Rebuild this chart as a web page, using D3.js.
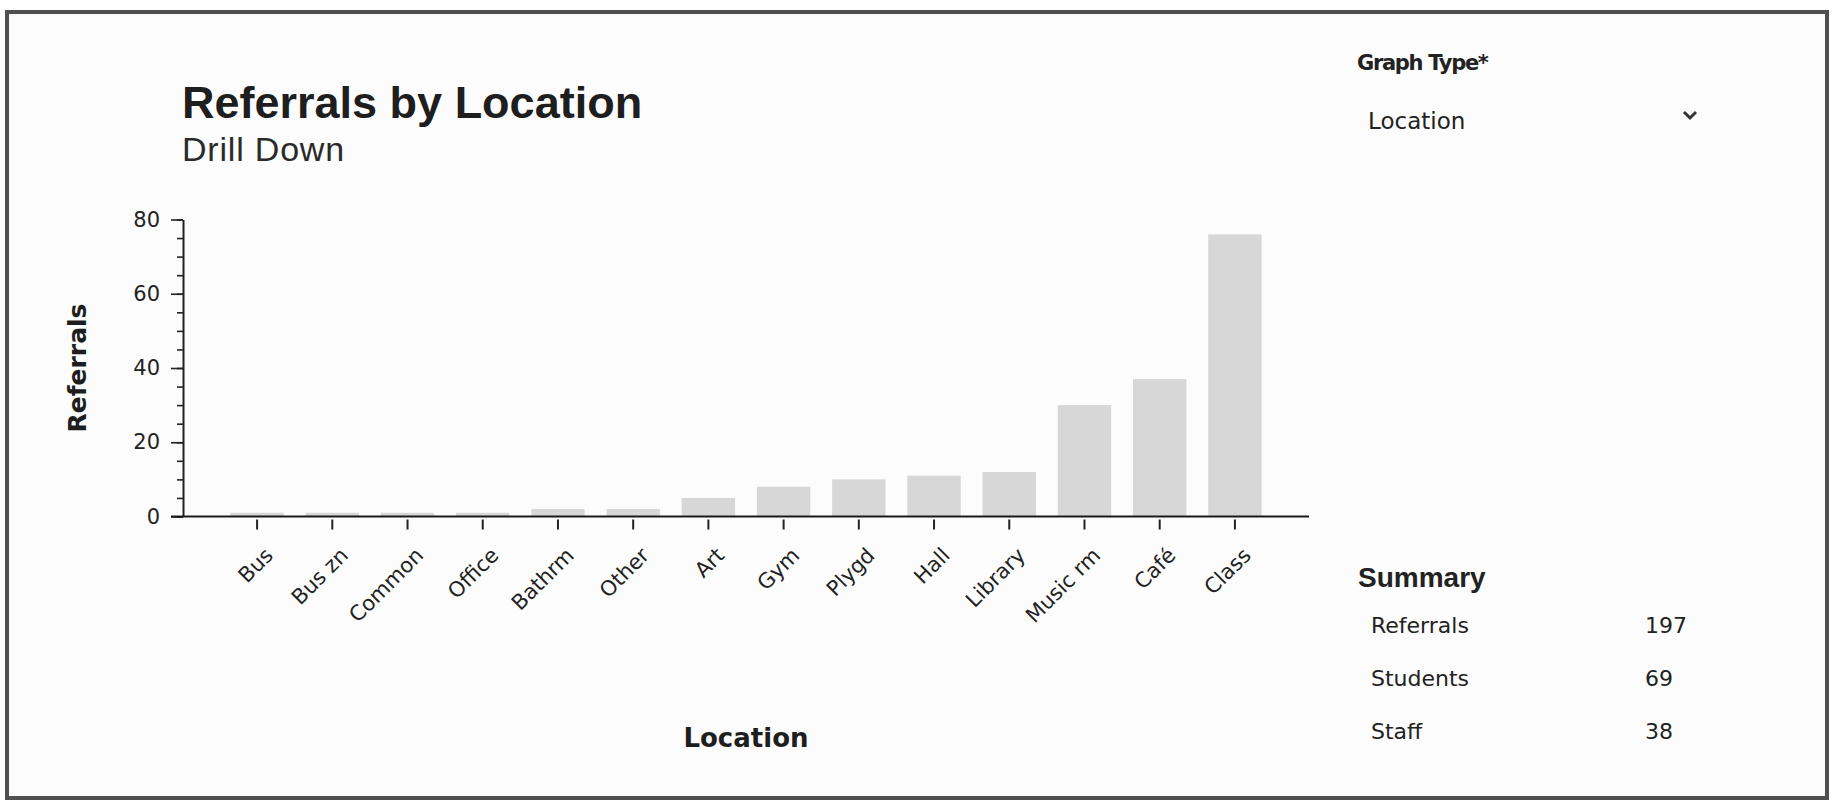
<!DOCTYPE html>
<html>
<head>
<meta charset="utf-8">
<script src="https://cdn.jsdelivr.net/npm/d3@7"></script>
<style>
  html, body { margin: 0; padding: 0; background: #ffffff; }
  svg { display: block; }
</style>
</head>
<body>
<svg id="chart" width="1841" height="801"></svg>
<script>
// Referral counts per location, sorted ascending
const locations = ["Bus", "Bus zn", "Common", "Office", "Bathrm", "Other", "Art", "Gym",
                   "Plygd", "Hall", "Library", "Music rm", "Café", "Class"];
const referrals = [1, 1, 1, 1, 2, 2, 5, 8, 10, 11, 12, 30, 37, 76];
const yTickValues = [0, 20, 40, 60, 80];

const graphTypeLabel = "Graph Type*";
const graphTypeValue = "Location";
const summaryLabels = ["Referrals", "Students", "Staff"];
const summaryValues = [197, 69, 38];

const svg = d3.select("#chart");

// outer panel with dark frame
svg.append("rect")
  .attr("x", 7).attr("y", 12).attr("width", 1820).attr("height", 786)
  .attr("fill", "#fcfcfc").attr("stroke", "#4f4f4f").attr("stroke-width", 4);

// heading
svg.append("text")
  .attr("x", 182).attr("y", 118)
  .attr("font-family", "'Liberation Sans', Arial, sans-serif")
  .attr("font-weight", "bold").attr("font-size", 45)
  .attr("fill", "#1e1e1e")
  .text("Referrals by Location");
svg.append("text")
  .attr("x", 182).attr("y", 161)
  .attr("font-family", "'Liberation Sans', Arial, sans-serif")
  .attr("font-size", 34).attr("letter-spacing", 0.8)
  .attr("fill", "#2a2a2a")
  .text("Drill Down");

// plot area
const x0 = 183, x1 = 1309, yTop = 219.5, yBase = 516.5;
const x = d3.scaleBand().domain(locations).range([x0, x1])
  .paddingInner(0.29).paddingOuter(0.63);
const y = d3.scaleLinear().domain([0, 80]).range([yBase, yTop]);

const axisFont = "'DejaVu Sans', Verdana, sans-serif";

// bars
svg.append("g").selectAll("rect")
  .data(locations.map((d, i) => ({ loc: d, v: referrals[i] })))
  .join("rect")
  .attr("x", d => x(d.loc))
  .attr("width", x.bandwidth())
  .attr("y", d => y(d.v))
  .attr("height", d => y(0) - y(d.v))
  .attr("fill", "#d7d7d7");

// y axis: minor ticks every 5
const gyMinor = svg.append("g").attr("transform", `translate(${x0},0)`)
  .call(d3.axisLeft(y).tickValues(d3.range(0, 81, 5)).tickSize(6).tickFormat(""));
gyMinor.select(".domain").remove();
gyMinor.selectAll("line").attr("stroke", "#222").attr("stroke-width", 1.6);

// y axis: major ticks with labels
const gy = svg.append("g").attr("transform", `translate(${x0},0)`)
  .call(d3.axisLeft(y).tickValues(yTickValues).tickSize(12).tickSizeOuter(0).tickPadding(11));
gy.select(".domain").attr("stroke", "#222").attr("stroke-width", 2);
gy.selectAll("line").attr("stroke", "#222").attr("stroke-width", 1.6);
gy.selectAll("text")
  .attr("font-family", axisFont).attr("font-size", 21).attr("fill", "#222");

// x axis
const gx = svg.append("g").attr("transform", `translate(0,${yBase})`)
  .call(d3.axisBottom(x).tickSize(13).tickSizeOuter(0));
gx.select(".domain")
  .attr("d", `M${x0 - 12},0H${x1}`)
  .attr("stroke", "#1a1a1a").attr("stroke-width", 2);
gx.selectAll(".tick line").attr("y1", 3).attr("stroke", "#222").attr("stroke-width", 2);
gx.selectAll(".tick text")
  .attr("font-family", axisFont).attr("font-size", 21).attr("fill", "#222")
  .attr("text-anchor", "end")
  .attr("y", 0).attr("dy", "0.35em")
  .attr("transform", "translate(12,35) rotate(-45)");

// axis titles
svg.append("text")
  .attr("x", (x0 + x1) / 2).attr("y", 747)
  .attr("text-anchor", "middle")
  .attr("font-family", axisFont).attr("font-weight", "bold").attr("font-size", 26)
  .attr("fill", "#1e1e1e")
  .text("Location");
svg.append("text")
  .attr("transform", `translate(77,${(yTop + yBase) / 2}) rotate(-90)`)
  .attr("text-anchor", "middle").attr("dominant-baseline", "central")
  .attr("font-family", axisFont).attr("font-weight", "bold").attr("font-size", 25)
  .attr("fill", "#1e1e1e")
  .text("Referrals");

// side panel: graph type selector
const sideFont = "'DejaVu Sans', Tahoma, sans-serif";
svg.append("text")
  .attr("x", 1357).attr("y", 70)
  .attr("font-family", sideFont).attr("font-weight", "bold").attr("font-size", 21)
  .attr("letter-spacing", -1.3)
  .attr("fill", "#222")
  .text(graphTypeLabel);
svg.append("text")
  .attr("x", 1368).attr("y", 129)
  .attr("font-family", sideFont).attr("font-size", 23)
  .attr("fill", "#222")
  .text(graphTypeValue);
svg.append("path")
  .attr("d", "M1684,112 L1690,118 L1696,112")
  .attr("fill", "none").attr("stroke", "#333").attr("stroke-width", 3);

// side panel: summary table
svg.append("text")
  .attr("x", 1358).attr("y", 587)
  .attr("font-family", "'Liberation Sans', Arial, sans-serif")
  .attr("font-weight", "bold").attr("font-size", 28)
  .attr("fill", "#222")
  .text("Summary");
const rowY = d3.scalePoint().domain(summaryLabels).range([633, 739]);
const rows = svg.append("g").selectAll("g")
  .data(summaryLabels.map((d, i) => ({ label: d, value: summaryValues[i] })))
  .join("g");
rows.append("text")
  .attr("x", 1371).attr("y", d => rowY(d.label))
  .attr("font-family", sideFont).attr("font-size", 22)
  .attr("fill", "#222")
  .text(d => d.label);
rows.append("text")
  .attr("x", 1645).attr("y", d => rowY(d.label))
  .attr("font-family", sideFont).attr("font-size", 22)
  .attr("fill", "#222")
  .text(d => d.value);
</script>
</body>
</html>
